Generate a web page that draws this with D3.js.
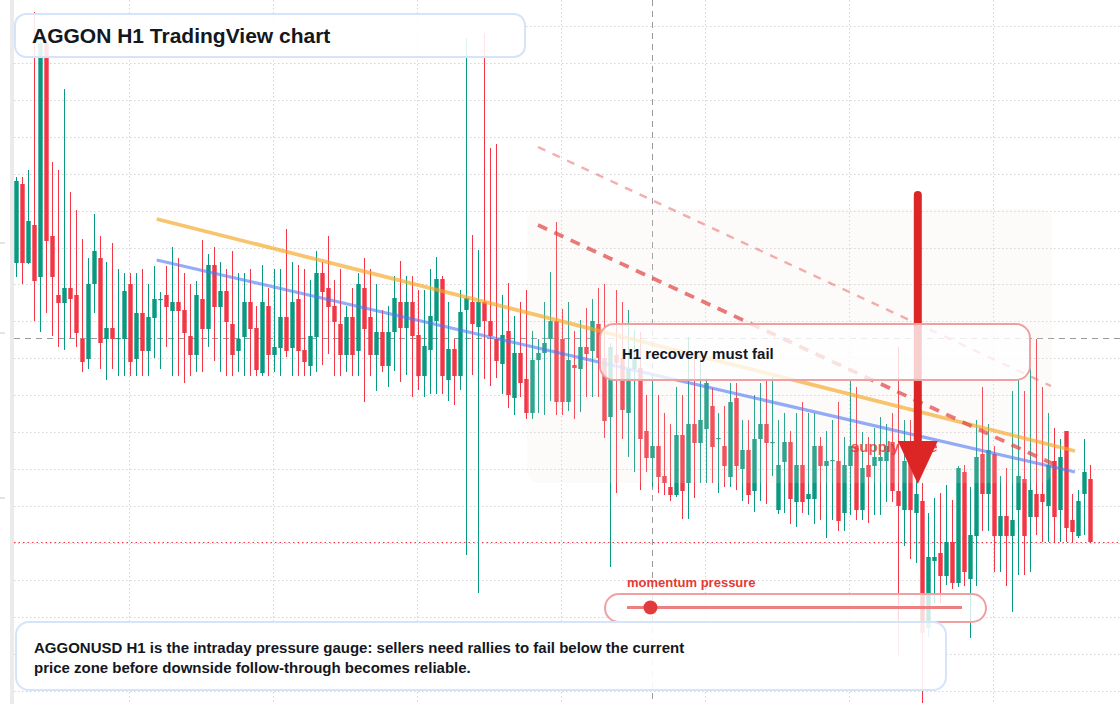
<!DOCTYPE html>
<html>
<head>
<meta charset="utf-8">
<script src="https://cdn.jsdelivr.net/npm/d3@7"></script>
<style>
  html, body { margin: 0; padding: 0; background: #fff; }
  svg { display: block; font-family: "Liberation Sans", Arial, sans-serif; }
</style>
</head>
<body>
<div id="chart"></div>
<script>
// hourly candles, oldest first
const open = [
  6.37,7.16,6.37,6.75,6.23,8.57,6.64,6.05,5.97,6.12,
  6.05,5.61,5.41,6.16,6.42,5.61,5.72,5.61,5.61,6.16,
  5.41,5.87,5.49,5.82,6.00,6.05,5.89,5.98,5.90,5.64,
  5.45,6.01,5.71,6.35,5.93,6.09,5.76,5.49,5.63,5.98,
  5.72,5.27,5.94,5.45,5.52,5.83,5.52,6.01,5.50,5.34,
  5.63,6.27,6.12,5.94,5.76,5.45,5.83,5.49,6.12,5.83,
  5.45,5.68,5.34,5.68,5.98,5.72,5.98,5.65,5.24,5.50,
  5.79,6.21,5.20,5.51,5.24,5.90,5.98,5.73,5.98,5.79,
  5.61,5.36,5.69,5.02,5.47,5.21,4.87,5.40,5.47,5.61,
  5.79,5.61,4.98,5.35,5.31,5.53,5.49,5.76,5.42,4.83,
  5.45,5.42,4.87,5.31,5.32,4.69,4.42,4.54,4.24,4.13,
  4.05,4.65,4.17,4.76,4.57,4.71,4.94,4.61,4.54,4.23,
  5.02,4.31,4.50,4.09,4.61,4.76,4.57,3.90,4.38,4.58,
  3.98,4.35,4.01,4.01,4.54,4.34,4.39,4.39,3.87,4.34,
  4.54,3.90,4.35,4.34,4.39,4.39,4.58,4.09,3.90,4.39,
  3.87,3.99,2.72,3.39,3.47,3.24,3.58,3.17,4.28,3.21,
  3.64,4.46,4.06,4.46,3.64,3.84,3.64,3.90,4.21,3.83,
  4.06,4.06,3.94,4.39,3.90,4.69,3.80,3.64,4.06,4.21
];
const high = [
  7.23,7.23,7.30,8.88,8.60,8.60,7.38,7.30,8.11,7.08,
  6.90,6.61,6.42,6.86,6.64,6.38,6.57,6.31,6.27,6.27,
  6.27,6.31,6.16,6.34,6.08,6.34,6.53,6.42,6.27,6.16,
  6.19,6.60,6.46,6.53,6.38,6.31,6.49,6.27,6.27,6.31,
  5.94,6.35,6.12,6.31,6.31,6.71,6.38,6.35,6.31,6.20,
  6.49,6.38,6.64,6.20,6.31,5.94,6.12,6.27,6.42,6.31,
  6.16,5.90,5.94,6.24,6.39,6.24,6.24,6.10,6.10,6.31,
  6.43,6.24,5.98,5.61,6.10,8.62,6.65,6.50,8.67,7.52,
  7.56,6.05,6.17,5.84,5.98,6.10,5.69,5.61,5.98,6.28,
  6.78,5.91,5.98,5.69,5.80,5.92,6.01,6.12,6.16,5.57,
  6.10,5.98,5.90,5.70,5.68,5.05,5.25,5.05,4.87,4.76,
  5.13,5.05,5.63,5.48,5.42,5.22,5.12,4.87,4.94,5.17,
  5.17,4.80,4.80,5.05,5.17,5.20,5.23,4.80,4.87,4.69,
  4.87,4.98,4.87,4.87,4.63,4.69,4.80,4.98,4.63,5.20,
  5.13,4.68,4.63,4.72,4.83,4.76,4.87,5.53,4.80,4.80,
  4.30,4.17,3.87,4.02,4.07,4.15,4.00,4.34,4.35,4.13,
  4.80,5.13,4.76,4.54,4.24,4.32,5.09,5.21,5.09,5.32,
  5.61,5.13,4.87,4.72,4.61,4.69,4.06,4.10,4.61,4.35
];
const low = [
  6.23,6.16,6.36,5.79,5.68,5.87,5.64,5.53,5.50,5.62,
  5.53,5.28,5.31,5.87,5.31,5.20,5.31,5.24,5.24,5.24,
  5.24,5.24,5.24,5.42,5.31,5.53,5.24,5.24,5.17,5.24,
  5.28,5.28,5.53,5.39,5.28,5.24,5.24,5.28,5.24,5.24,
  5.24,5.24,5.24,5.28,5.24,5.43,5.24,5.24,5.24,5.24,
  5.28,5.35,5.46,5.24,5.24,5.28,5.24,5.24,4.98,5.24,
  5.09,5.28,5.13,5.29,5.18,5.25,5.03,5.10,5.03,5.06,
  5.06,5.06,4.99,4.95,5.10,3.45,5.25,3.07,5.21,5.14,
  5.22,5.06,4.92,4.85,5.03,4.81,4.81,4.87,4.85,4.99,
  4.85,4.85,4.89,4.81,4.88,5.03,5.03,5.03,4.62,3.33,
  4.07,4.61,4.43,4.28,4.10,4.28,4.13,4.07,4.05,3.99,
  4.03,3.81,3.81,4.02,4.17,4.17,4.17,4.07,4.13,4.13,
  4.10,3.99,3.96,3.88,3.99,3.96,4.24,3.86,3.87,3.76,
  3.73,3.87,3.85,3.76,3.80,3.62,3.80,3.69,3.69,3.85,
  3.80,3.80,3.77,3.85,3.85,3.98,3.98,2.45,3.54,3.41,
  3.37,1.97,2.63,2.97,2.97,3.15,3.11,3.13,3.14,2.62,
  3.14,3.69,3.69,3.28,3.28,3.14,2.88,3.25,3.25,3.28,
  3.65,3.58,3.58,3.58,3.58,3.58,3.58,3.62,3.65,3.58
];
const close = [
  7.19,6.37,6.79,6.19,8.57,6.59,6.23,5.97,6.12,6.01,
  5.67,5.38,6.16,6.49,5.57,5.72,5.61,5.62,6.09,5.38,
  5.87,5.49,5.83,6.01,6.01,5.93,5.98,5.89,5.67,5.45,
  6.05,5.71,6.35,5.93,6.09,5.78,5.45,5.61,5.98,5.71,
  5.30,5.98,5.45,5.53,5.83,5.49,5.98,5.49,5.38,5.64,
  6.27,6.08,5.93,5.78,5.45,5.83,5.45,6.16,5.71,5.45,
  5.68,5.34,5.68,6.02,5.72,5.98,5.64,5.24,5.54,5.84,
  6.21,5.24,5.51,5.24,5.88,6.02,5.76,5.98,5.79,5.64,
  5.39,5.65,5.05,5.47,5.17,4.87,5.40,5.47,5.57,5.79,
  4.98,4.98,5.40,5.32,5.53,5.46,5.79,5.42,4.79,5.53,
  5.37,4.90,5.31,5.42,4.61,4.42,4.54,4.23,4.17,4.05,
  4.65,4.09,4.76,4.57,4.80,5.17,4.53,4.62,4.34,4.98,
  4.34,4.50,4.05,4.61,4.76,4.57,4.58,4.35,4.58,4.01,
  4.35,3.98,4.06,4.54,4.34,4.39,4.40,3.79,4.35,4.54,
  3.90,4.32,4.23,4.43,4.43,4.54,4.09,3.94,4.39,3.90,
  4.06,2.67,3.43,3.43,3.24,3.58,3.17,4.32,3.28,3.65,
  4.43,4.06,4.50,3.64,3.84,3.64,3.80,4.24,3.64,4.10,
  3.83,3.98,4.35,3.83,4.43,3.72,3.68,3.99,4.28,3.58
];

// price grid and day separators (candle index)
const gridPrices = [8.74,8.37,8.00,7.63,7.26,6.89,6.52,6.16,5.79,5.42,5.05,4.68,4.31,3.94,3.57,3.20,2.83,2.46,2.09];
const dayBreaks  = [18.88,42.88,66.88,90.88,114.88,138.88,162.88];
const axisMarks  = [6.57,5.67,4.02];

// drawings: [candle index, price]
const crosshair   = [105.92, 5.62];
const orangeTrend = [[23.45,6.81],[176.5,4.49]];
const blueTrend   = [[23.45,6.40],[176.5,4.28]];
const upperDash   = [[87.0,7.53],[172.5,5.14]];
const lowerDash   = [[87.0,6.75],[174.3,4.32]];
const zoneIndex   = [85.17,172.67];
const zonePrice   = [6.91,4.17];
const zoneLabelAt = [139.17,4.48];
const arrowIndex  = 150.3;
const arrowPrice  = [7.05,4.59,4.16];   // tail, head base, tip
const momentum    = 7;                   // 0..100

(function() {

  let width  = 1120,
      height = 704;

  const UP = "#089981", DOWN = "#f23645";

  let x = d3.scaleLinear().domain([0, close.length - 1]).range([16, 1090]);
  let y = d3.scaleLinear().domain([9, 1.96]).range([0, height]);

  let svg = d3.select("#chart")
    .append("svg")
    .attr("width", width)
    .attr("height", height);

  svg.append("rect").attr("width", width).attr("height", height).attr("fill", "#fff");

  // left pane edge + stub ticks
  svg.append("rect").attr("x", 10).attr("y", 0).attr("width", 4).attr("height", height).attr("fill", "#ebebeb");
  svg.selectAll(".axis-mark").data(axisMarks).enter().append("line")
    .attr("x1", 0).attr("x2", 5)
    .attr("y1", d => y(d)).attr("y2", d => y(d))
    .attr("stroke", "#c8c8c8");

  // grid
  svg.selectAll(".hgrid").data(gridPrices).enter().append("line")
    .attr("x1", 14).attr("x2", width)
    .attr("y1", d => Math.round(y(d)) + 0.5).attr("y2", d => Math.round(y(d)) + 0.5)
    .attr("stroke", "#d4d4d4").attr("stroke-dasharray", "1.5,2.5");
  svg.selectAll(".vgrid").data(dayBreaks).enter().append("line")
    .attr("x1", d => Math.round(x(d)) + 0.5).attr("x2", d => Math.round(x(d)) + 0.5)
    .attr("y1", 0).attr("y2", height)
    .attr("stroke", "#d4d4d4").attr("stroke-dasharray", "1.5,2.5");

  // last price line
  let last = close[close.length - 1];
  svg.append("line")
    .attr("x1", 14).attr("x2", width)
    .attr("y1", Math.round(y(last)) + 0.5).attr("y2", Math.round(y(last)) + 0.5)
    .attr("stroke", DOWN).attr("stroke-dasharray", "1.5,3");

  // crosshair
  svg.append("line")
    .attr("x1", 14).attr("x2", width)
    .attr("y1", Math.round(y(crosshair[1])) + 0.5).attr("y2", Math.round(y(crosshair[1])) + 0.5)
    .attr("stroke", "#9a9a9a").attr("stroke-dasharray", "6,5");
  svg.append("line")
    .attr("x1", Math.round(x(crosshair[0])) + 0.5).attr("x2", Math.round(x(crosshair[0])) + 0.5)
    .attr("y1", 0).attr("y2", height)
    .attr("stroke", "#9a9a9a").attr("stroke-dasharray", "6,5");

  // candles
  let candles = d3.range(close.length).map(i => ({ i, o: open[i], h: high[i], l: low[i], c: close[i] }));
  let g = svg.append("g");

  g.selectAll(".wick").data(candles).enter().append("line")
    .attr("x1", d => x(d.i) + 0.5).attr("x2", d => x(d.i) + 0.5)
    .attr("y1", d => y(d.h)).attr("y2", d => y(d.l))
    .attr("stroke", d => d.c >= d.o ? UP : DOWN)
    .attr("stroke-width", 1);

  g.selectAll(".body").data(candles).enter().append("rect")
    .attr("x", d => x(d.i) + 0.5 - 2.2)
    .attr("width", 4.4)
    .attr("y", d => y(Math.max(d.o, d.c)))
    .attr("height", d => Math.max(1.2, Math.abs(y(d.o) - y(d.c))))
    .attr("fill", d => d.c >= d.o ? UP : DOWN);

  // supply zone shade
  svg.append("rect")
    .attr("x", x(zoneIndex[0])).attr("y", y(zonePrice[0]))
    .attr("width", x(zoneIndex[1]) - x(zoneIndex[0]))
    .attr("height", y(zonePrice[1]) - y(zonePrice[0]))
    .attr("rx", 12)
    .attr("fill", "rgb(245,232,215)").attr("fill-opacity", 0.16);

  let line = d3.line().x(d => x(d[0])).y(d => y(d[1]));

  svg.append("path").attr("d", line(orangeTrend))
    .attr("stroke", "#f5a623").attr("stroke-opacity", 0.66)
    .attr("stroke-width", 3.8).attr("fill", "none");
  svg.append("path").attr("d", line(blueTrend))
    .attr("stroke", "#4c77f1").attr("stroke-opacity", 0.6)
    .attr("stroke-width", 3.2).attr("fill", "none");

  svg.append("path").attr("d", line(upperDash))
    .attr("stroke", "#e85d5d").attr("stroke-opacity", 0.5)
    .attr("stroke-width", 2.4).attr("stroke-dasharray", "8,8").attr("fill", "none");
  svg.append("path").attr("d", line(lowerDash))
    .attr("stroke", "#e04545").attr("stroke-opacity", 0.72)
    .attr("stroke-width", 3.8).attr("stroke-dasharray", "10,8").attr("fill", "none");

  svg.append("text")
    .attr("x", x(zoneLabelAt[0])).attr("y", y(zoneLabelAt[1]))
    .attr("font-size", 15).attr("font-weight", 600)
    .attr("fill", "#e53935").attr("fill-opacity", 0.85)
    .text("supply zone");

  // down arrow
  let ax = x(arrowIndex);
  svg.append("line")
    .attr("x1", ax).attr("x2", ax)
    .attr("y1", y(arrowPrice[0])).attr("y2", y(arrowPrice[1]) + 4)
    .attr("stroke", "#dc2626").attr("stroke-width", 8).attr("stroke-linecap", "round");
  svg.append("path")
    .attr("d", `M${ax - 20},${y(arrowPrice[1])}L${ax + 20},${y(arrowPrice[1])}L${ax},${y(arrowPrice[2])}Z`)
    .attr("fill", "#dc2626");

  // callout
  svg.append("rect")
    .attr("x", 600).attr("y", 324).attr("width", 430).attr("height", 56).attr("rx", 14)
    .attr("fill", "#fff").attr("fill-opacity", 0.78)
    .attr("stroke", "#f0a0a0").attr("stroke-width", 2);
  svg.append("text").attr("x", 622).attr("y", 359)
    .attr("font-size", 15).attr("font-weight", "bold").attr("fill", "#131722")
    .text("H1 recovery must fail");

  // momentum gauge
  let m = d3.scaleLinear().domain([0, 100]).range([627, 962]);
  svg.append("text").attr("x", 627).attr("y", 587)
    .attr("font-size", 13).attr("font-weight", "bold").attr("fill", "#e53935")
    .text("momentum pressure");
  svg.append("rect")
    .attr("x", 605).attr("y", 594).attr("width", 381).attr("height", 28).attr("rx", 14)
    .attr("fill", "#fff").attr("fill-opacity", 0.8)
    .attr("stroke", "#f0a0a0").attr("stroke-width", 2);
  svg.append("line")
    .attr("x1", m(0)).attr("x2", m(100)).attr("y1", 607.5).attr("y2", 607.5)
    .attr("stroke", "#ee7f7f").attr("stroke-width", 3);
  svg.append("circle").attr("cx", m(momentum)).attr("cy", 607.5).attr("r", 7).attr("fill", "#e23b3b");

  // title
  svg.append("rect")
    .attr("x", 15).attr("y", 14).attr("width", 510).attr("height", 43).attr("rx", 11)
    .attr("fill", "#fff").attr("fill-opacity", 0.88)
    .attr("stroke", "#d6e4fa").attr("stroke-width", 2);
  svg.append("text").attr("x", 32).attr("y", 43)
    .attr("font-size", 21).attr("font-weight", "bold").attr("fill", "#131722")
    .text("AGGON H1 TradingView chart");

  // note
  svg.append("rect")
    .attr("x", 16).attr("y", 622).attr("width", 930).attr("height", 68).attr("rx", 13)
    .attr("fill", "#fff").attr("fill-opacity", 0.9)
    .attr("stroke", "#d6e4fa").attr("stroke-width", 2);
  let note = svg.append("text")
    .attr("font-size", 15).attr("font-weight", "bold").attr("fill", "#131722");
  note.append("tspan").attr("x", 34).attr("y", 653)
    .text("AGGONUSD H1 is the intraday pressure gauge: sellers need rallies to fail below the current");
  note.append("tspan").attr("x", 34).attr("y", 673)
    .text("price zone before downside follow-through becomes reliable.");

})();
</script>
</body>
</html>
